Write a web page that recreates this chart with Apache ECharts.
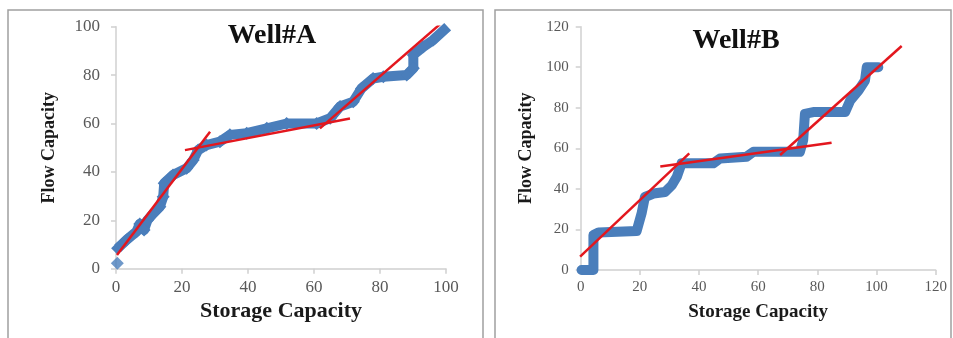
<!DOCTYPE html>
<html>
<head>
<meta charset="utf-8">
<script src="https://cdn.jsdelivr.net/npm/echarts@6/dist/echarts.min.js"></script>
<style>
    html, body { margin: 0; padding: 0; background: #fff; }
    #chart { width: 953px; height: 338px; }
</style>
</head>
<body>
<div id="chart"></div>
<script>
// Well#A flow vs storage capacity
const wellAStart = [[0.4, 2.3]];
const wellAPoints = [
    [0.5, 8.4], [3.2, 11.9], [6.2, 15.3], [7.2, 18.5], [8.5, 16], [9.5, 20], [11.3, 22.8],
    [13.3, 25.6], [14.3, 29.7], [14.6, 35.3], [17.3, 38.7], [21.4, 41.5], [23.4, 44.9],
    [24.9, 49], [27.4, 51.1], [31.5, 52.5], [34.5, 55.3], [39.6, 56], [45.7, 58],
    [51.7, 60], [60.8, 60], [64.9, 62.2], [67.9, 67], [71.9, 69], [74.4, 74.5],
    [77.9, 78.6], [81, 79.3], [88.1, 80], [90.1, 82.8], [90.1, 88.3], [93.1, 91.7],
    [96.1, 94.5], [100.5, 100]
];
// trend segments for Well#A
const trendA1 = [[0.3, 5.7], [28.5, 56.6]];
const trendA2 = [[20.9, 49], [70.9, 62.1]];
const trendA3 = [[61.8, 58], [100.7, 104]];

// Well#B flow vs storage capacity
const wellBPoints = [
    [0.3, 0], [4.3, 0], [4.3, 17.3], [6, 18.5], [18.9, 19.2], [20.6, 28], [21.7, 36],
    [24.6, 37.7], [28.5, 38.5], [30.8, 41.8], [32.5, 46], [34.1, 52.6], [38.1, 52.6],
    [44.8, 52.6], [47.1, 55], [56.1, 55.9], [58.4, 58.3], [67.4, 58.3], [74.1, 58.3],
    [75.2, 64], [75.8, 77], [78.6, 77.9], [89.4, 77.9], [91.1, 83.6], [93.9, 88.5],
    [96.1, 93.5], [96.7, 100], [100.6, 100]
];
// trend segments for Well#B
const trendB1 = [[-0.2, 6.6], [36.7, 57.5]];
const trendB2 = [[26.9, 51], [84.8, 62.8]];
const trendB3 = [[67.4, 56.7], [108.5, 110.5]];

const ticksA = [0, 20, 40, 60, 80, 100];
const ticksB = [0, 20, 40, 60, 80, 100, 120];

const blue = '#4a7ebb';
const red = '#e3171e';
const axisGray = '#d0d0d0';
const labelGray = '#595959';
const serif = '"Liberation Serif", "DejaVu Serif", serif';

function valueAxis(gridIndex, ticks, opts) {
    return Object.assign({
        type: 'value',
        gridIndex: gridIndex,
        min: ticks[0],
        max: ticks[ticks.length - 1],
        interval: ticks[1] - ticks[0],
        splitLine: {show: false},
        axisLine: {show: true, lineStyle: {color: axisGray, width: 1.5}},
        axisTick: {show: true, length: 5, lineStyle: {color: axisGray, width: 1.5}},
        nameLocation: 'middle',
        nameTextStyle: {fontFamily: serif, fontWeight: 'bold', color: '#1a1a1a'}
    }, opts);
}

function trend(name, data, x, y) {
    return {
        name: name,
        type: 'line',
        xAxisIndex: x,
        yAxisIndex: y,
        data: data,
        showSymbol: false,
        lineStyle: {color: red, width: 2.5},
        z: 5
    };
}

let myChart = echarts.init(document.getElementById('chart'));

let option = {
    animation: false,
    backgroundColor: '#fff',
    title: [
        {
            text: 'Well#A', left: 267, top: 17, textAlign: 'center',
            textStyle: {fontFamily: serif, fontWeight: 'bold', fontSize: 28, color: '#111'}
        },
        {
            text: 'Well#B', left: 731, top: 22, textAlign: 'center',
            textStyle: {fontFamily: serif, fontWeight: 'bold', fontSize: 28, color: '#111'}
        }
    ],
    // panel borders
    graphic: [
        {type: 'rect', shape: {x: 8, y: 10, width: 475, height: 340},
         style: {fill: 'none', stroke: '#a0a0a0', lineWidth: 1.5}},
        {type: 'rect', shape: {x: 495, y: 10, width: 456, height: 340},
         style: {fill: 'none', stroke: '#a0a0a0', lineWidth: 1.5}}
    ],
    grid: [
        {left: 116, top: 26.7, width: 330, height: 242},
        {left: 580.7, top: 26.7, width: 355, height: 243.3}
    ],
    xAxis: [
        valueAxis(0, ticksA, {
            name: 'Storage Capacity', nameGap: 32,
            nameTextStyle: {fontFamily: serif, fontWeight: 'bold', fontSize: 22, color: '#1a1a1a'},
            axisLabel: {margin: 10, fontFamily: serif, fontSize: 17, color: labelGray}
        }),
        valueAxis(1, ticksB, {
            name: 'Storage Capacity', nameGap: 33,
            nameTextStyle: {fontFamily: serif, fontWeight: 'bold', fontSize: 19, color: '#1a1a1a'},
            axisLabel: {margin: 10, fontFamily: serif, fontSize: 15, color: labelGray}
        })
    ],
    yAxis: [
        valueAxis(0, ticksA, {
            name: 'Flow Capacity', nameGap: 58,
            nameTextStyle: {fontFamily: serif, fontWeight: 'bold', fontSize: 18, color: '#1a1a1a'},
            axisLabel: {margin: 16, fontFamily: serif, fontSize: 17, color: labelGray}
        }),
        valueAxis(1, ticksB, {
            name: 'Flow Capacity', nameGap: 45,
            nameTextStyle: {fontFamily: serif, fontWeight: 'bold', fontSize: 18, color: '#1a1a1a'},
            axisLabel: {margin: 12, fontFamily: serif, fontSize: 15, color: labelGray}
        })
    ],
    series: [
        {
            name: 'Well A start',
            type: 'scatter',
            xAxisIndex: 0, yAxisIndex: 0,
            data: wellAStart,
            symbol: 'diamond', symbolSize: 13,
            itemStyle: {color: blue}
        },
        {
            name: 'Well A',
            type: 'line',
            xAxisIndex: 0, yAxisIndex: 0,
            data: wellAPoints,
            symbol: 'diamond', symbolSize: 13, showSymbol: true,
            itemStyle: {color: blue},
            lineStyle: {color: blue, width: 10, join: 'round'}
        },
        trend('A trend 1', trendA1, 0, 0),
        trend('A trend 2', trendA2, 0, 0),
        trend('A trend 3', trendA3, 0, 0),
        {
            name: 'Well B',
            type: 'line',
            xAxisIndex: 1, yAxisIndex: 1,
            data: wellBPoints,
            showSymbol: false,
            lineStyle: {color: blue, width: 10, join: 'round', cap: 'round'}
        },
        trend('B trend 1', trendB1, 1, 1),
        trend('B trend 2', trendB2, 1, 1),
        trend('B trend 3', trendB3, 1, 1)
    ]
};

myChart.setOption(option);
</script>
</body>
</html>
